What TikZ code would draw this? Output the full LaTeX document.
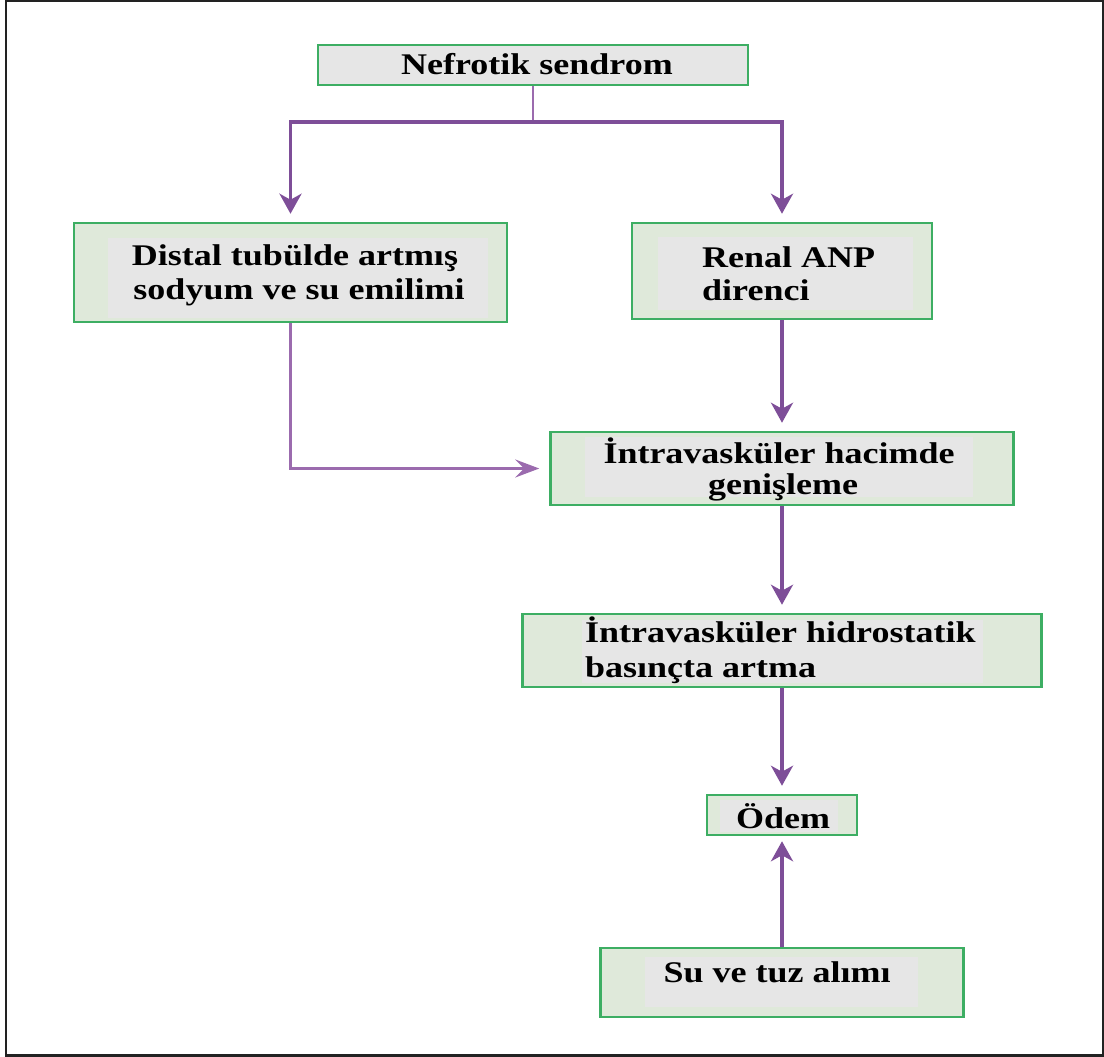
\documentclass[tikz,border=0pt]{standalone}
\usepackage{fontspec}
\newfontfamily\boxfont{Liberation Serif}[FakeStretch=1.2]
\usetikzlibrary{arrows.meta}
\definecolor{boxgreen}{HTML}{DFE9DA}
\definecolor{boxgray}{HTML}{E6E6E6}
\definecolor{edgegreen}{HTML}{3DAE63}
\definecolor{arrowpurple}{HTML}{7E4E98}
\definecolor{stempurple}{HTML}{9B6BAE}
\definecolor{framegray}{HTML}{222222}
\begin{document}
\begin{tikzpicture}[x=1pt,y=-1pt,
  box/.style={rectangle, draw=edgegreen, line width=2.5pt, fill=boxgreen, inner sep=0pt},
  innergray/.style={fill=boxgray},
  txt/.style={font=\boxfont\bfseries\fontsize{30}{34}\selectfont, inner sep=0pt, text=black},
  arrmain/.style={draw=arrowpurple, line width=4pt, shorten >=8pt,
    -{Stealth[length=20pt,width=22pt,inset=6pt]}},
  arrthin/.style={draw=stempurple, line width=2.5pt, shorten >=10pt,
    -{Stealth[length=24pt,width=18pt,inset=9pt]}},
  stem/.style={draw=stempurple, line width=2.5pt}]
\useasboundingbox (0,0) rectangle (1104,1057);
\draw[framegray, line width=2.5pt] (6,1) rectangle (1103,1055.5);

% boxes
\node[box, fill=boxgray, minimum width=430pt, minimum height=40pt] (b1) at (533,65) {};
\node[box, minimum width=433pt, minimum height=99pt] (b2) at (290.5,272.5) {};
\node[box, minimum width=300pt, minimum height=96pt] (b3) at (782,271) {};
\node[box, minimum width=463pt, minimum height=73pt] (b4) at (782,468.5) {};
\node[box, minimum width=519pt, minimum height=73pt] (b5) at (782,650.5) {};
\node[box, minimum width=150pt, minimum height=40pt] (b6) at (782,815) {};
\node[box, minimum width=363pt, minimum height=69pt] (b7) at (782,982.5) {};

% inner gray text panels
\fill[innergray] (108,238) rectangle (488,318);
\fill[innergray] (658,237) rectangle (913,310);
\fill[innergray] (585,437) rectangle (973,497);
\fill[innergray] (582,620) rectangle (983,683);
\fill[innergray] (720,800) rectangle (838,832);
\fill[innergray] (645,957) rectangle (918,1007);

% texts
\node[txt, anchor=base] (t1) at (537,75) {Nefrotik sendrom};
\node[txt, anchor=base] (t2a) at (295,265) {Distal tubülde artmış};
\node[txt, anchor=base] (t2b) at (299,299) {sodyum ve su emilimi};
\node[txt, anchor=base west] (t3a) at (702,267) {Renal ANP};
\node[txt, anchor=base west] (t3b) at (702,300) {direnci};
\node[txt, anchor=base] (t4a) at (779,463) {İntravasküler hacimde};
\node[txt, anchor=base] (t4b) at (783,494) {genişleme};
\node[txt, anchor=base west] (t5a) at (585,642) {İntravasküler hidrostatik};
\node[txt, anchor=base west] (t5b) at (585,677) {basınçta artma};
\node[txt, anchor=base] (t6) at (783,828) {Ödem};
\node[txt, anchor=base] (t7) at (777,982) {Su ve tuz alımı};

% connectors
\coordinate (j) at (533,122);
\draw[stem] (b1.south) -- (j);
\draw[arrmain, line width=3.5pt] (j) -| (b2.north);
\draw[arrmain, line width=3.5pt] (j) -| (b3.north);
\draw[arrthin] (b2.south) |- (b4.west);
\draw[arrmain] (b3.south) -- (b4.north);
\draw[arrmain] (b4.south) -- (b5.north);
\draw[arrmain] (b5.south) -- (b6.north);
\draw[arrmain, shorten >=5pt] (b7.north) -- (b6.south);
\end{tikzpicture}
\end{document}
